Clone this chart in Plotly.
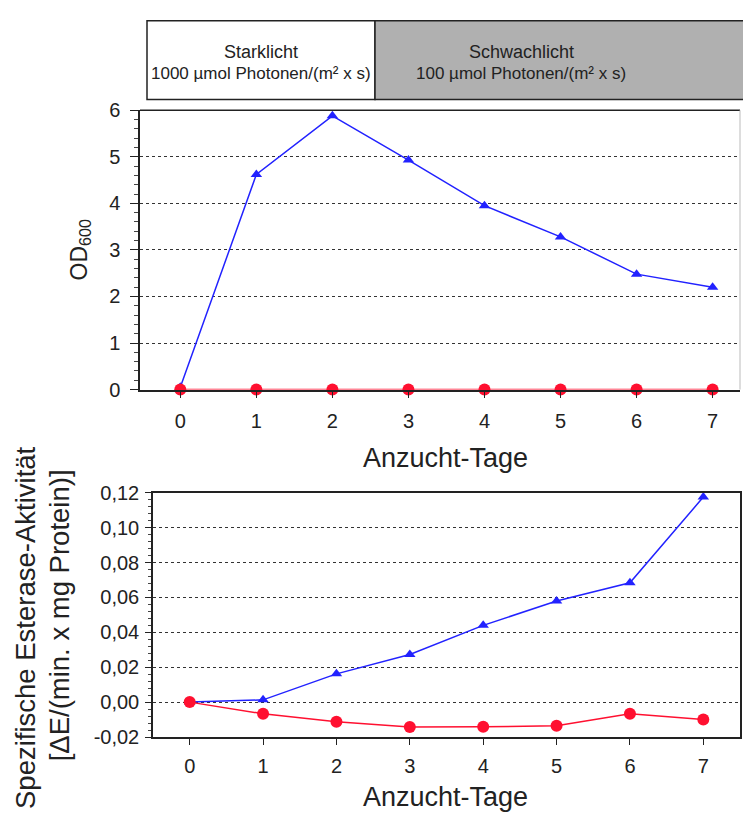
import plotly.graph_objects as go

# ---- data ----
days = [0, 1, 2, 3, 4, 5, 6, 7]
od_starklicht = [0.05, 4.62, 5.88, 4.93, 3.95, 3.28, 2.48, 2.20]
od_schwachlicht = [0, 0, 0, 0, 0, 0, 0, 0]
est_starklicht = [0.0, 0.0013, 0.0162, 0.0273, 0.0440, 0.0580, 0.0684, 0.1175]
est_schwachlicht = [0.0, -0.0067, -0.0112, -0.0143, -0.0141, -0.0136, -0.0067, -0.0099]
od_ticks = [0, 1, 2, 3, 4, 5, 6]
est_ticks = [-0.02, 0.00, 0.02, 0.04, 0.06, 0.08, 0.10, 0.12]
est_ticklabels = ["-0,02", "0,00", "0,02", "0,04", "0,06", "0,08", "0,10", "0,12"]

W, H = 743, 821
def px(x):
    return x / W
def py(y):
    return 1 - y / H

FONT = "Liberation Sans, Arial, sans-serif"
BLUE = "#2222ff"
RED = "#ff1030"

fig = go.Figure()

fig.add_trace(go.Scatter(x=days, y=od_starklicht, mode="lines+markers",
                         line=dict(color=BLUE, width=1.5),
                         marker=dict(symbol="triangle-up", size=10, color=BLUE),
                         xaxis="x", yaxis="y", cliponaxis=False, showlegend=False))
fig.add_trace(go.Scatter(x=days, y=od_schwachlicht, mode="lines+markers",
                         line=dict(color=RED, width=1.5),
                         marker=dict(symbol="circle", size=12, color=RED),
                         xaxis="x", yaxis="y", cliponaxis=False, showlegend=False))
fig.add_trace(go.Scatter(x=days, y=est_starklicht, mode="lines+markers",
                         line=dict(color=BLUE, width=1.5),
                         marker=dict(symbol="triangle-up", size=10, color=BLUE),
                         xaxis="x2", yaxis="y2", cliponaxis=False, showlegend=False))
fig.add_trace(go.Scatter(x=days, y=est_schwachlicht, mode="lines+markers",
                         line=dict(color=RED, width=1.5),
                         marker=dict(symbol="circle", size=12, color=RED),
                         xaxis="x2", yaxis="y2", cliponaxis=False, showlegend=False))

tickfont = dict(family=FONT, size=20, color="#222")
grid = dict(showgrid=True, gridcolor="#333", griddash="dot", gridwidth=1)

fig.update_layout(
    width=W, height=H,
    margin=dict(l=0, r=0, t=0, b=0),
    paper_bgcolor="white", plot_bgcolor="white",
    font=dict(family=FONT, color="#222"),
    xaxis=dict(domain=[px(140), px(740)], range=[-0.53, 7.36],
               tickmode="array", tickvals=days, ticks="outside", ticklen=7,
               tickcolor="#222", showline=True, linecolor="#222", linewidth=1.5,
               showgrid=False, zeroline=False, tickfont=tickfont,
               ticklabelstandoff=6, anchor="y"),
    yaxis=dict(domain=[py(389), py(102)], range=[0, 6],
               tickmode="array", tickvals=od_ticks, ticks="outside", ticklen=8,
               tickcolor="#222", showline=True, linecolor="#222", linewidth=1.5,
               zeroline=False, tickfont=tickfont, ticklabelstandoff=6,
               minor=dict(dtick=0.2, ticks="outside", ticklen=4, tickcolor="#444", showgrid=False),
               anchor="x", **grid),
    xaxis2=dict(domain=[px(153), px(740)], range=[-0.5, 7.5],
                tickmode="array", tickvals=days, ticks="outside", ticklen=6,
                tickcolor="#222", showline=True, linecolor="#222", linewidth=1.5,
                mirror=True, showgrid=False, zeroline=False, tickfont=tickfont,
                ticklabelstandoff=4, anchor="y2"),
    yaxis2=dict(domain=[py(746), py(495)], range=[-0.02, 0.12],
                tickmode="array", tickvals=est_ticks, ticktext=est_ticklabels,
                ticks="outside", ticklen=6, tickcolor="#222", showline=True,
                linecolor="#222", linewidth=1.5, mirror=True, zeroline=False,
                tickfont=tickfont, ticklabelstandoff=2,
                minor=dict(dtick=0.004, ticks="outside", ticklen=3, tickcolor="#444", showgrid=False),
                anchor="x2", **grid),
)

# top plot frame: dark top border, faint right border
fig.add_shape(type="line", xref="x domain", yref="y domain", x0=0, x1=1, y0=1, y1=1,
              line=dict(color="#222", width=1.5))
fig.add_shape(type="line", xref="x domain", yref="y domain", x0=1, x1=1, y0=0, y1=1,
              line=dict(color="#bbb", width=1))

# header boxes
fig.add_shape(type="rect", xref="paper", yref="paper", x0=px(147), x1=px(375), y0=py(91), y1=py(10),
              fillcolor="white", line=dict(color="#222", width=1.5), layer="below")
fig.add_shape(type="rect", xref="paper", yref="paper", x0=px(375), x1=px(745), y0=py(91), y1=py(10),
              fillcolor="#b0b0b0", line=dict(color="#222", width=1.5), layer="below")

ann = []
def note(text, x, y, size, angle=0, color="#222"):
    ann.append(dict(text=text, x=px(x), y=py(y), xref="paper", yref="paper",
                    xanchor="center", yanchor="middle", showarrow=False,
                    textangle=angle, font=dict(family=FONT, size=size, color=color)))

note("Starklicht", 261, 42, 18)
note("1000 µmol Photonen/(m² x s)", 261, 64, 17)
note("Schwachlicht", 521, 42, 18)
note("100 µmol Photonen/(m² x s)", 521, 64, 17)

note("OD<sub>600</sub>", 80, 246, 23, angle=-90)
note("Anzucht-Tage", 446, 459, 27)
note("Spezifische Esterase-Aktivität", 25, 634, 27.5, angle=-90)
note("[ΔE/(min. x mg Protein)]", 59, 621, 27.5, angle=-90)
note("Anzucht-Tage", 446, 808, 27)

fig.update_layout(annotations=ann)

fig.write_html("out.html")
